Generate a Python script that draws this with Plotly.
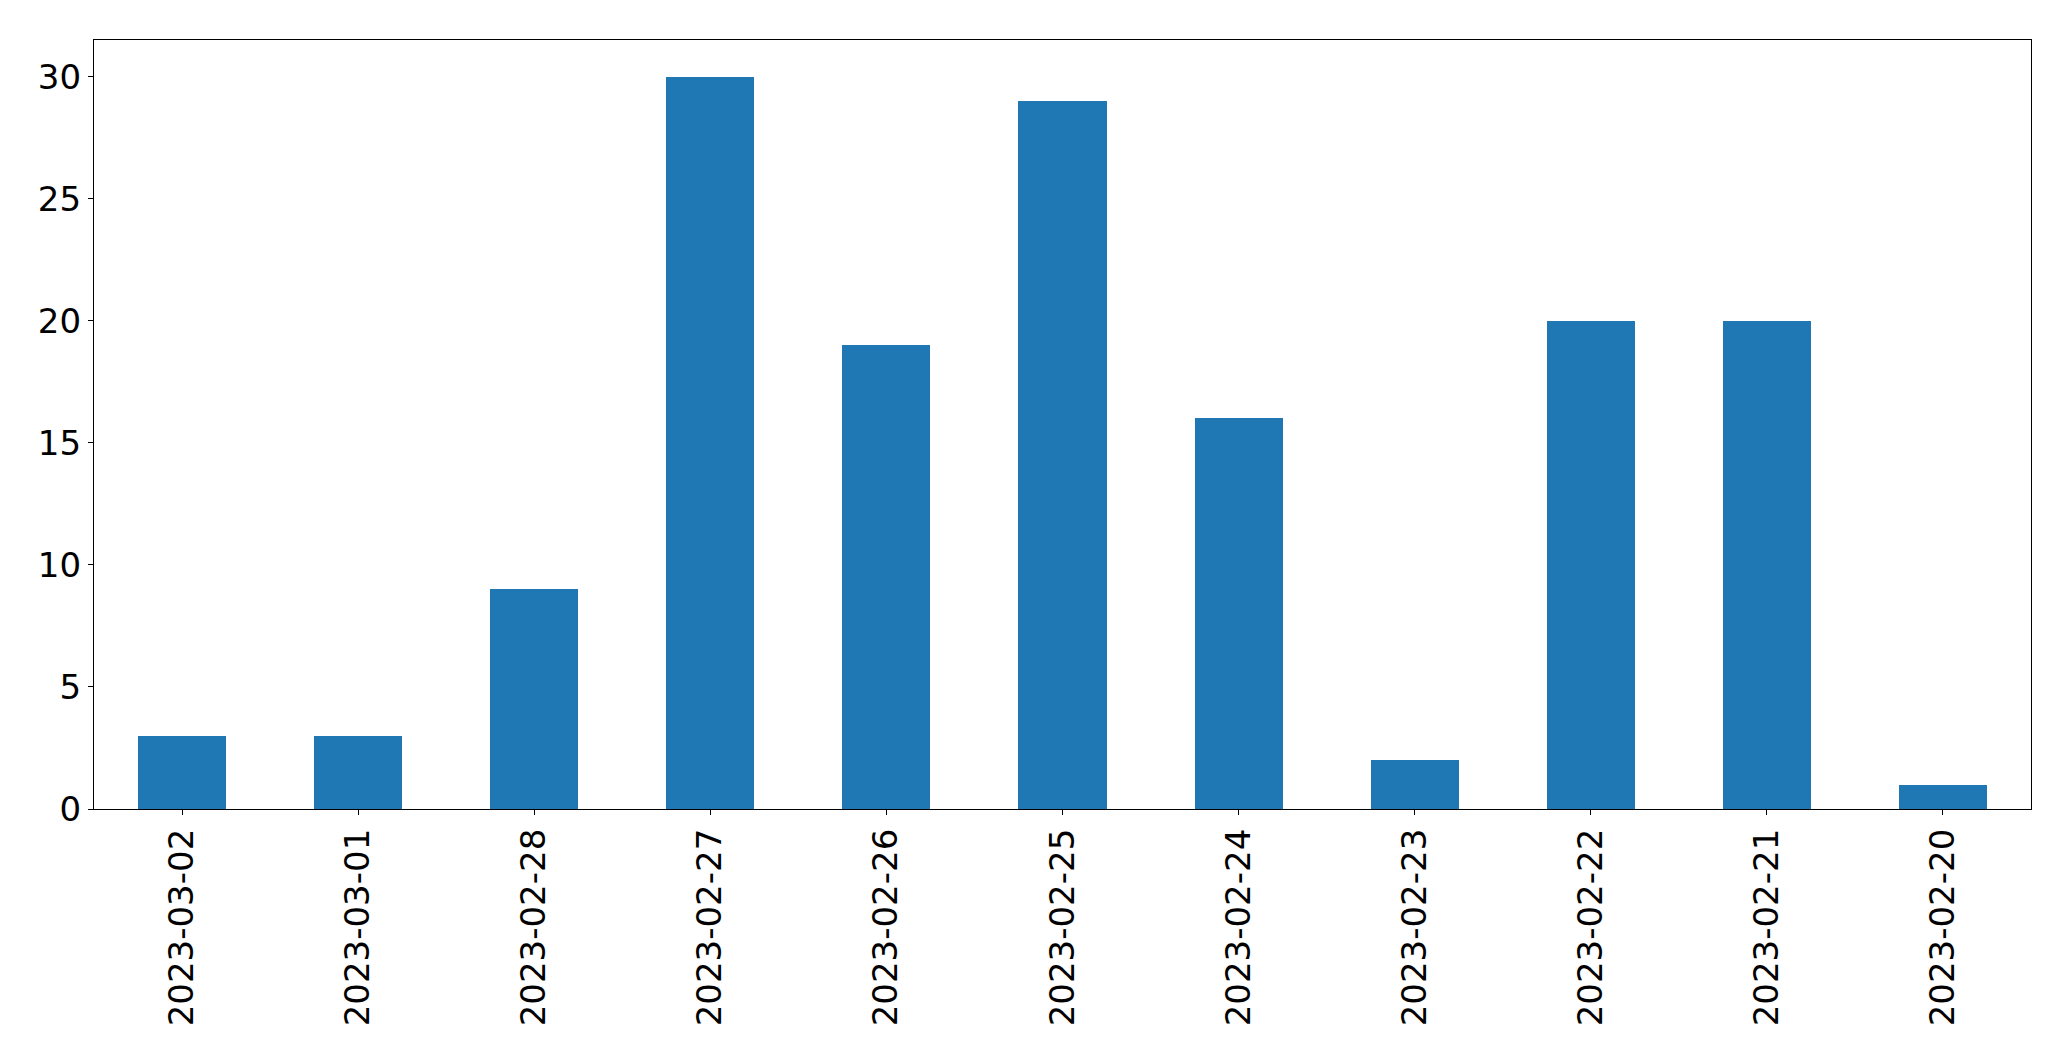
import plotly.graph_objects as go

dates = ['2023-03-02', '2023-03-01', '2023-02-28', '2023-02-27', '2023-02-26',
         '2023-02-25', '2023-02-24', '2023-02-23', '2023-02-22', '2023-02-21',
         '2023-02-20']
counts = [3, 3, 9, 30, 19, 29, 16, 2, 20, 20, 1]

fig = go.Figure()
fig.add_trace(go.Bar(
    x=dates,
    y=counts,
    width=0.5,
    marker=dict(color='#1f77b4', line=dict(width=0)),
))

axis_style = dict(
    showline=True, linecolor='black', linewidth=1.3, mirror=True,
    ticks='outside', ticklen=5, tickwidth=1.3, tickcolor='black',
    showgrid=False, zeroline=False, automargin=False,
)

# page body has an 8px margin, so the figure is sized to fit inside the window
fig.update_layout(
    width=2063, height=1053,
    margin=dict(l=86, r=40, t=32, b=252, pad=0),
    paper_bgcolor='white', plot_bgcolor='white',
    font=dict(family='DejaVu Sans', size=34, color='black'),
    showlegend=False,
    bargap=0,
    xaxis=dict(type='category', range=[-0.5, 10.5], tickangle=-90, **axis_style),
    yaxis=dict(range=[0, 31.5], tickvals=[0, 5, 10, 15, 20, 25, 30], **axis_style),
)

fig.write_html("out.html")
